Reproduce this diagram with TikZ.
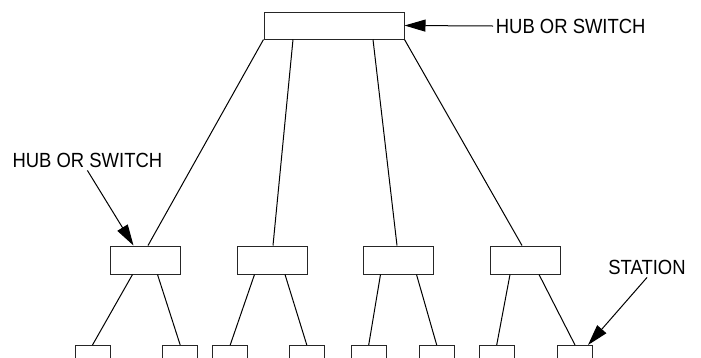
\documentclass[tikz,border=0pt]{standalone}
\usepackage{fontspec}
\setmainfont{Liberation Sans}
\usepackage{tikz}
\usetikzlibrary{arrows.meta, positioning}
\tikzset{
    netbox/.style={rectangle, draw=black!85, line width=1pt, minimum width=#1, inner sep=0pt},
    netline/.style={draw=black, line width=1pt},
    netcallout/.style={-{Triangle[length=21pt, width=12pt]}, line width=1pt},
    netlabel/.style={font=\fontsize{20.5pt}{22pt}\selectfont, xscale=0.9, inner sep=3pt}
}

\begin{document}
\begin{tikzpicture}[x=1pt, y=-1pt, node distance=55.5pt]

\useasboundingbox (0,0) rectangle (701,357);
\clip (0,0) rectangle (701,357);

% hub at the top
\node[netbox=140pt, minimum height=27pt] (hub) at (334,25.5) {};

% second level
\node[netbox=70pt, minimum height=28pt] (sw1) at (145.5,260) {};
\node[netbox=70pt, minimum height=28pt, right=of sw1] (sw2) {};
\node[netbox=70pt, minimum height=28pt, right=of sw2] (sw3) {};
\node[netbox=70pt, minimum height=28pt, right=of sw3] (sw4) {};

% stations (cut by the lower edge)
\node[netbox=35pt, minimum height=30pt, anchor=north] (st1) at (92.5,345) {};
\node[netbox=35pt, minimum height=30pt, anchor=north] (st2) at (180.2,345) {};
\node[netbox=35pt, minimum height=30pt, anchor=north] (st3) at (230.2,345) {};
\node[netbox=35pt, minimum height=30pt, anchor=north] (st4) at (306.8,345) {};
\node[netbox=35pt, minimum height=30pt, anchor=north] (st5) at (368.7,345) {};
\node[netbox=35pt, minimum height=30pt, anchor=north] (st6) at (436.7,345) {};
\node[netbox=35pt, minimum height=30pt, anchor=north] (st7) at (496.7,345) {};
\node[netbox=35pt, minimum height=30pt, anchor=north] (st8) at (575,345) {};

% labels
\node[netlabel, anchor=west] (hubtxt) at (493,26) {HUB OR SWITCH};
\node[netlabel] (swtxt) at (87.4,160) {HUB OR SWITCH};
\node[netlabel] (sttxt) at (647,267) {STATION};

% links
\draw[netline] (hub.south west) -- ([xshift=2.5pt]sw1.north);
\draw[netline] ([xshift=-41pt]hub.south) -- ([xshift=1pt]sw2.north);
\draw[netline] ([xshift=39pt]hub.south) -- ([xshift=-1.5pt]sw3.north);
\draw[netline] (hub.south east) -- ([xshift=-3pt]sw4.north);

\draw[netline] ([xshift=-13pt]sw1.south) -- (st1.north);
\draw[netline] ([xshift=12pt]sw1.south) -- (st2.north);
\draw[netline] ([xshift=-17.5pt]sw2.south) -- (st3.north);
\draw[netline] ([xshift=13pt]sw2.south) -- (st4.north);
\draw[netline] ([xshift=-18pt]sw3.south) -- (st5.north);
\draw[netline] ([xshift=18pt]sw3.south) -- (st6.north);
\draw[netline] ([xshift=-15pt]sw4.south) -- (st7.north);
\draw[netline] ([xshift=14pt]sw4.south) -- (st8.north);

% callouts
\draw[netcallout] (hubtxt.west) -- (hub.east);
\draw[netcallout] (swtxt.south) -- ([xshift=-12pt]sw1.north);
\draw[netcallout] (sttxt.south) -- ([xshift=-5pt]st8.north east);

\end{tikzpicture}
\end{document}
